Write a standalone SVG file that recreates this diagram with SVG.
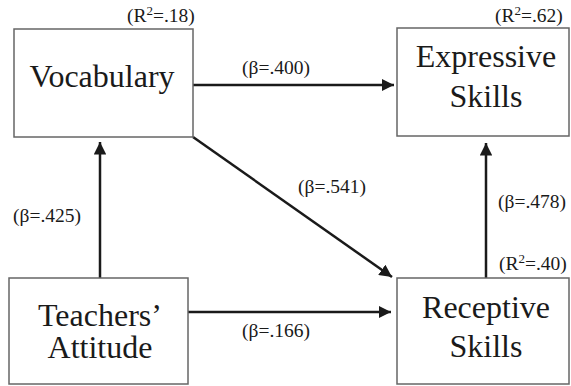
<svg xmlns="http://www.w3.org/2000/svg" width="571" height="386" viewBox="0 0 571 386">
<style>
.box{fill:#fff;stroke:#666;stroke-width:1.5}
.t{font-family:"Liberation Serif","Times New Roman",serif;font-size:32px;fill:#1a1a1a;text-anchor:middle}
.l{font-family:"Liberation Serif","Times New Roman",serif;font-size:19.5px;fill:#1a1a1a}
.c{stroke:#1a1a1a;stroke-width:2.5;fill:none;marker-end:url(#ah)}
</style>
<defs>
<marker id="ah" viewBox="0 0 10 10" refX="10" refY="5" markerWidth="5" markerHeight="5" markerUnits="strokeWidth" orient="auto">
<path d="M0,0 L10,5 L0,10 z" fill="#1a1a1a"/>
</marker>
</defs>
<rect width="571" height="386" fill="#fff"/>
<g id="connectors">
<line class="c" x1="193" y1="85" x2="394" y2="85"/>
<line class="c" x1="193" y1="137" x2="392" y2="277"/>
<line class="c" x1="188" y1="312" x2="391" y2="312"/>
<line class="c" x1="100" y1="278" x2="100" y2="142"/>
<line class="c" x1="486" y1="278" x2="486" y2="143"/>
</g>
<g id="vocabulary">
<rect class="box" x="14" y="29" width="179" height="108"/>
<text class="t" x="102" y="87">Vocabulary</text>
<text class="l" x="127" y="22">(R<tspan dy="-7" font-size="13">2</tspan><tspan dy="7">=.18)</tspan></text>
</g>
<g id="expressive">
<rect class="box" x="397" y="28" width="172" height="108"/>
<text class="t" x="486" y="67">Expressive</text>
<text class="t" x="486" y="107">Skills</text>
<text class="l" x="495" y="22">(R<tspan dy="-7" font-size="13">2</tspan><tspan dy="7">=.62)</tspan></text>
</g>
<g id="teachers">
<rect class="box" x="9" y="278" width="179" height="106"/>
<text class="t" x="100" y="326">Teachers’</text>
<text class="t" x="100" y="358">Attitude</text>
</g>
<g id="receptive">
<rect class="box" x="397" y="278" width="172" height="106"/>
<text class="t" x="486" y="318">Receptive</text>
<text class="t" x="486" y="357">Skills</text>
<text class="l" x="499" y="270">(R<tspan dy="-7" font-size="13">2</tspan><tspan dy="7">=.40)</tspan></text>
</g>
<g id="labels">
<text class="l" x="242" y="74">(β=.400)</text>
<text class="l" x="298" y="193">(β=.541)</text>
<text class="l" x="13" y="222">(β=.425)</text>
<text class="l" x="242" y="337">(β=.166)</text>
<text class="l" x="498" y="208">(β=.478)</text>
</g>
</svg>
